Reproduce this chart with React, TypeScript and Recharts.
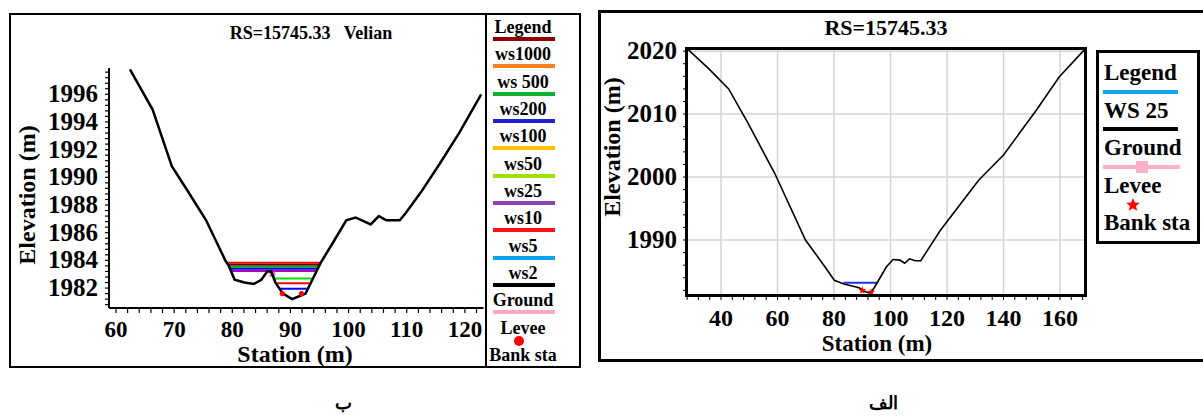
import React from 'react';
import { ComposedChart, Line, Scatter, XAxis, YAxis, ReferenceLine } from 'recharts';

const serif = "'Liberation Serif', 'Times New Roman', Times, 'DejaVu Serif', serif";

// ---- panel ب : RS=15745.33 Velian ----
const velianStation = [62.4, 66.3, 69.6, 72.2, 75.5, 78.8, 79.4, 80.4, 82.1, 83.7, 85.0, 86.0, 86.7, 87.4, 88.7, 90.3, 92.0, 92.6, 94.0, 95.3, 97.2, 99.6, 101.2, 103.8, 105.2, 106.5, 108.8, 109.8, 112.4, 115.7, 119.0, 122.8];
const velianElev = [1997.8, 1994.9, 1990.8, 1989.1, 1986.9, 1984.0, 1983.6, 1982.6, 1982.4, 1982.3, 1982.6, 1983.2, 1983.2, 1982.4, 1981.6, 1981.2, 1981.5, 1981.6, 1982.8, 1983.9, 1985.2, 1986.9, 1987.1, 1986.6, 1987.2, 1986.9, 1986.9, 1987.4, 1988.9, 1991.0, 1993.2, 1996.0];

const upperWsElev = [1983.83, 1983.68, 1983.54, 1983.39, 1983.23];
const upperWsFrom = [79.05, 79.25, 79.4, 79.55, 79.75];
const upperWsTo = [95.2, 95.05, 94.9, 94.7, 94.5];
const upperWsColor = ['#ff0000', '#5a0000', '#00b000', '#0000ff', '#b000c0'];

const lowerWsElev = [1982.7, 1982.34, 1981.95];
const lowerWsFrom = [87.2, 87.7, 88.1];
const lowerWsTo = [93.7, 93.3, 92.9];
const lowerWsColor = ['#00e000', '#ff0000', '#0000ff'];

const velianLeveeStation = [86.4, 87.4];
const velianLeveeElev = [1983.0, 1983.0];
const velianBankStation = [88.6, 91.9];
const velianBankElev = [1981.6, 1981.6];

const velianXLabels = [60, 70, 80, 90, 100, 110, 120];
const velianYLabels = [1982, 1984, 1986, 1988, 1990, 1992, 1994, 1996];

const velianLegend = ['Legend', 'ws1000', 'ws 500', 'ws200', 'ws100', 'ws50', 'ws25', 'ws10', 'ws5', 'ws2', 'Ground', 'Levee', 'Bank sta'];
const velianLegendColor = ['#8b0000', '#ff8020', '#10b030', '#2020d0', '#ffc000', '#a0e000', '#9040b0', '#ff1010', '#10a0f0', '#000000', '#ffa8c8', 'dot'];

// ---- panel الف : RS=15745.33 ----
const rsStation = [28.0, 35.9, 42.7, 49.5, 59.0, 69.9, 76.7, 80.1, 83.5, 88.9, 91.0, 93.0, 95.8, 98.5, 100.9, 103.3, 105.0, 106.7, 108.7, 110.7, 117.6, 131.2, 140.0, 151.6, 159.7, 168.6];
const rsElev = [2020.4, 2017.1, 2014.0, 2008.6, 2000.6, 1990.0, 1985.8, 1983.6, 1983.0, 1982.4, 1981.8, 1981.5, 1983.6, 1985.7, 1986.9, 1986.8, 1986.3, 1987.0, 1986.7, 1986.7, 1991.5, 1999.5, 2003.5, 2010.6, 2015.9, 2020.2];
const ws25Station = [83.3, 95.6];
const ws25Elev = [1983.2, 1983.2];
const rsBankStation = [90.0, 93.1];
const rsBankElev = [1982.0, 1981.7];

const rsXLabels = [40, 60, 80, 100, 120, 140, 160];
const rsYLabels = [1990, 2000, 2010, 2020];
const rsLegend = ['Legend', 'WS 25', 'Ground', 'Levee', 'Bank sta'];

const range = (a: number, b: number, step: number) => {
  const out: number[] = [];
  for (let v = a; v <= b + 1e-9; v += step) out.push(Math.round(v * 10) / 10);
  return out;
};

const pts = (xs: number[], ys: number[]) => xs.map((x, i) => ({ x, y: ys[i] }));

const starPoints = (cx: number, cy: number, R: number, r: number) => {
  const p: string[] = [];
  for (let i = 0; i < 10; i++) {
    const a = -Math.PI / 2 + (i * Math.PI) / 5;
    const rad = i % 2 === 0 ? R : r;
    p.push(`${cx + rad * Math.cos(a)},${cy + rad * Math.sin(a)}`);
  }
  return p.join(' ');
};

const makeTick = (labels: number[], fontSize: number, anchor: 'middle' | 'end', dx: number, dy: number) => (props: any) => {
  const { x, y, payload } = props;
  if (!labels.includes(payload.value)) return <g />;
  return (
    <text x={x + dx} y={y + dy} textAnchor={anchor} style={{ fontFamily: serif }} fontWeight="bold" fontSize={fontSize} fill="#000">
      {payload.value}
    </text>
  );
};

const Txt = ({ x, y, size, children, rotate = 0, align = 'center' }: any) => (
  <div
    style={{
      position: 'absolute',
      left: x,
      top: y,
      transform: `translate(${align === 'center' ? '-50%' : '0'}, -50%) rotate(${rotate}deg)`,
      fontFamily: serif,
      fontWeight: 'bold',
      fontSize: size,
      lineHeight: 1,
      whiteSpace: 'pre',
      color: '#000',
    }}
  >
    {children}
  </div>
);

const Box = ({ x, y, w, h, b }: any) => (
  <div style={{ position: 'absolute', left: x, top: y, width: w, height: h, border: `${b}px solid #000`, boxSizing: 'border-box', pointerEvents: 'none' }} />
);

const Bar = ({ x, y, w, color, h = 4 }: any) => (
  <div style={{ position: 'absolute', left: x - w / 2, top: y - h / 2, width: w, height: h, background: color }} />
);

const App = () => {
  const velianGround = pts(velianStation, velianElev);
  const rsGround = pts(rsStation, rsElev);

  return (
    <div style={{ position: 'absolute', left: 0, top: 0, width: 1203, height: 420, background: '#fff', overflow: 'hidden', fontFamily: serif }}>
      {/* left panel */}
      <div style={{ position: 'absolute', left: 0, top: 0 }}>
        <ComposedChart width={487} height={368} margin={{ top: 68, right: 3.5, bottom: 30, left: 49 }}>
          <XAxis
            type="number"
            dataKey="x"
            domain={[58.8, 123.2]}
            allowDataOverflow
            ticks={range(60, 122, 2)}
            interval={0}
            tickSize={5}
            tickMargin={0}
            axisLine={{ stroke: '#000', strokeWidth: 2 }}
            tickLine={{ stroke: '#000', strokeWidth: 1.2 }}
            tick={makeTick(velianXLabels, 23, 'middle', 0, 24)}
          />
          <YAxis
            type="number"
            dataKey="y"
            width={60}
            domain={[1980.56, 1997.9]}
            allowDataOverflow
            ticks={range(1980.8, 1997.6, 0.4)}
            interval={0}
            tickSize={4}
            tickMargin={0}
            axisLine={{ stroke: '#000', strokeWidth: 2 }}
            tickLine={{ stroke: '#000', strokeWidth: 1.2 }}
            tick={makeTick(velianYLabels, 25, 'end', -7, 8)}
          />
          {upperWsElev.map((e, i) => (
            <Line key={'u' + i} data={pts([upperWsFrom[i], upperWsTo[i]], [e, e])} dataKey="y" stroke={upperWsColor[i]} strokeWidth={2} dot={false} isAnimationActive={false} />
          ))}
          {lowerWsElev.map((e, i) => (
            <Line key={'l' + i} data={pts([lowerWsFrom[i], lowerWsTo[i]], [e, e])} dataKey="y" stroke={lowerWsColor[i]} strokeWidth={2} dot={false} isAnimationActive={false} />
          ))}
          <Line data={pts(velianLeveeStation, velianLeveeElev)} dataKey="y" stroke="#e070e0" strokeWidth={5} dot={false} isAnimationActive={false} />
          <Line data={velianGround} dataKey="y" stroke="#000" strokeWidth={2.5} dot={false} isAnimationActive={false} />
          <Scatter
            data={pts(velianBankStation, velianBankElev)}
            dataKey="y"
            isAnimationActive={false}
            shape={(p: any) => <circle cx={p.cx} cy={p.cy} r={2.6} fill="#ff0000" />}
          />
        </ComposedChart>
      </div>
      <Box x={9} y={13} w={478} h={355} b={2} />
      <Box x={485} y={13} w={96} h={355} b={2} />
      <Txt x={311} y={33} size={18}>{'RS=15745.33   Velian'}</Txt>
      <Txt x={27} y={195} size={24} rotate={-90}>Elevation (m)</Txt>
      <Txt x={295} y={354} size={24}>Station (m)</Txt>
      {velianLegend.map((label, i) => {
        const cy = 27 + 27.33 * i;
        const mark = velianLegendColor[i];
        return (
          <React.Fragment key={label}>
            <Txt x={523} y={cy} size={18}>{label}</Txt>
            {mark === 'dot' ? (
              <div style={{ position: 'absolute', left: 514, top: cy + 13.7 - 5, width: 10, height: 10, borderRadius: 5, background: '#ff0000' }} />
            ) : mark ? (
              <Bar x={524} y={cy + 12} w={62} color={mark} />
            ) : null}
          </React.Fragment>
        );
      })}

      {/* right panel */}
      <Box x={598} y={10} w={612} h={352} b={3} />
      <div style={{ position: 'absolute', left: 600, top: 0 }}>
        <ComposedChart width={500} height={360} margin={{ top: 48, right: 14, bottom: 34, left: 26 }}>
          <XAxis
            type="number"
            dataKey="x"
            domain={[27.6, 169.2]}
            allowDataOverflow
            ticks={range(28, 168, 4)}
            interval={0}
            tickSize={4}
            tickMargin={0}
            axisLine={false}
            tickLine={{ stroke: '#000', strokeWidth: 1 }}
            tick={makeTick(rsXLabels, 24, 'middle', 0, 26)}
          />
          <YAxis
            type="number"
            dataKey="y"
            width={60}
            domain={[1981.1, 2020.5]}
            allowDataOverflow
            ticks={range(1982, 2020, 2)}
            interval={0}
            tickSize={3}
            tickMargin={0}
            axisLine={false}
            tickLine={{ stroke: '#000', strokeWidth: 1 }}
            tick={makeTick(rsYLabels, 25, 'end', -6, 8)}
          />
          {rsXLabels.map((v) => (
            <ReferenceLine key={'gx' + v} x={v} stroke="#d4d4d4" strokeWidth={1.5} />
          ))}
          {rsYLabels.map((v) => (
            <ReferenceLine key={'gy' + v} y={v} stroke="#d4d4d4" strokeWidth={1.5} />
          ))}
          <Line data={pts(ws25Station, ws25Elev)} dataKey="y" stroke="#2030e0" strokeWidth={2} dot={false} isAnimationActive={false} />
          <Line data={rsGround} dataKey="y" stroke="#000" strokeWidth={1.6} dot={false} isAnimationActive={false} />
          <Scatter
            data={pts(rsBankStation, rsBankElev)}
            dataKey="y"
            isAnimationActive={false}
            shape={(p: any) => <polygon points={starPoints(p.cx, p.cy, 4, 1.8)} fill="#ff0000" />}
          />
        </ComposedChart>
      </div>
      <Box x={685} y={47} w={402} h={250} b={3} />
      <Txt x={886} y={28} size={22}>RS=15745.33</Txt>
      <Txt x={612} y={147} size={24} rotate={-90}>Elevation (m)</Txt>
      <Txt x={877} y={343} size={23}>Station (m)</Txt>

      <Box x={1096} y={50} w={104} h={194} b={3} />
      {rsLegend.map((label, i) => (
        <Txt key={label} x={1104} y={72 + 37.5 * i} size={23} align="left">{label}</Txt>
      ))}
      <Bar x={1140.5} y={92} w={75} color="#10a8e8" />
      <Bar x={1140.5} y={129} w={75} color="#000" />
      <Bar x={1141.5} y={167} w={77} color="#ffb0c8" />
      <div style={{ position: 'absolute', left: 1136, top: 161, width: 12, height: 12, background: '#ffb0c8' }} />
      <svg style={{ position: 'absolute', left: 1124, top: 196 }} width={18} height={18}>
        <polygon points={starPoints(9, 9, 7, 3.2)} fill="#ff0000" />
      </svg>

      {/* captions */}
      <Txt x={343} y={403} size={18}>ب</Txt>
      <Txt x={883} y={403} size={18}>الف</Txt>
    </div>
  );
};

export default App;
